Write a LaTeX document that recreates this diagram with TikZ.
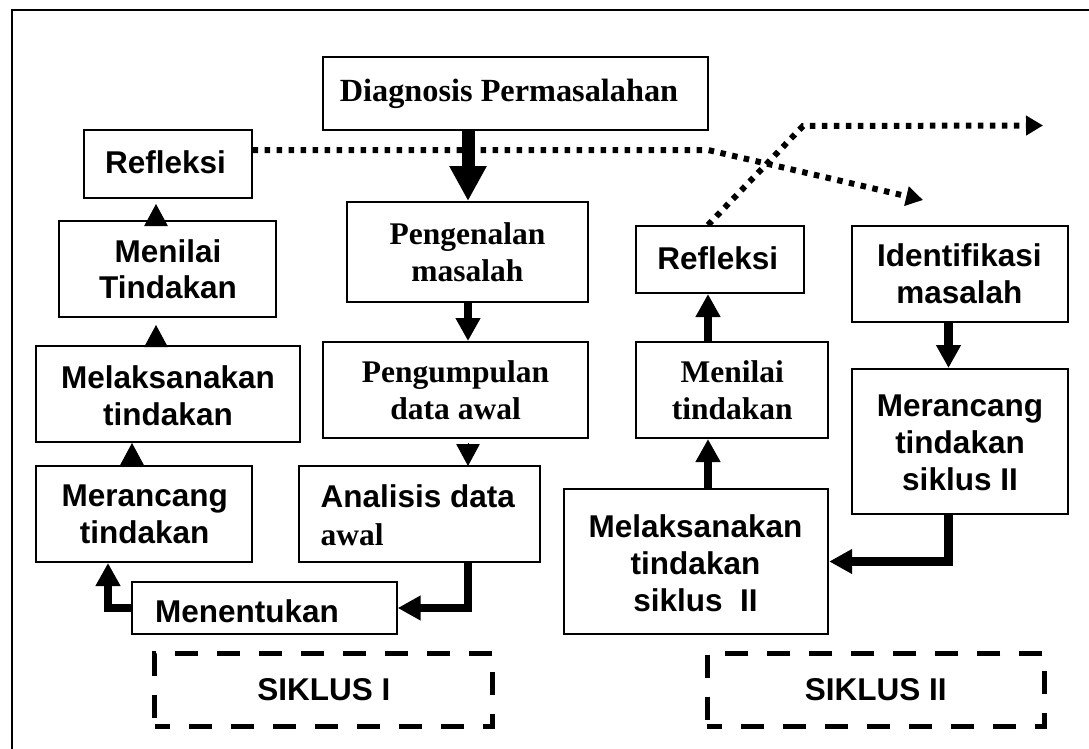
\documentclass[tikz,border=0pt]{standalone}
\usepackage{fontspec}
\setmainfont{Liberation Sans}
\newfontfamily\tnr{Liberation Serif}
\usetikzlibrary{arrows.meta}
\tikzset{
  box/.style={draw, line width=2pt, inner sep=0pt},
  sf/.style={font=\fontsize{31.5}{37}\selectfont\bfseries, align=center, inner sep=0pt},
  rm/.style={font=\fontsize{31.5}{37}\selectfont\tnr\bfseries, align=center, inner sep=0pt},
  arr/.style={line width=8.5pt, line join=miter, -{Triangle[width=23.5pt,length=23pt]}},
  bigarr/.style={line width=13pt, -{Triangle[width=35pt,length=35pt]}},
  tri/.style={line width=1pt, -{Triangle[width=23.5pt,length=22pt]}},
  dots/.style={line width=6pt, dash pattern=on 5.5pt off 6.5pt, -{Triangle[width=19pt,length=17pt]}},
  cyc/.style={draw, line width=5pt, dash pattern=on 23pt off 19pt, dash phase=8pt, inner sep=0pt,
    font=\fontsize{31.5}{37}\selectfont\bfseries}
}
\begin{document}
\begin{tikzpicture}[x=1pt,y=-1pt]
\useasboundingbox (0,0) rectangle (1089,749);
\fill[white] (0,0) rectangle (1089,749);
\draw[line width=2pt] (11.8,760) -- (11.8,10) -- (1095,10);

% column coordinates
\coordinate (x108) at (108,0);
\coordinate (x132) at (132,0);
\coordinate (x156) at (156,0);
\coordinate (x468) at (468,0);
\coordinate (x708) at (708,0);
\coordinate (x949) at (948.5,0);

% boxes
\node[box, minimum width=385pt, minimum height=73pt] (diag) at (515.5,93.5) {};
\node[rm, font=\fontsize{32.3}{37}\selectfont\tnr\bfseries] (diagt) at (509,94) {Diagnosis Permasalahan};

\node[box, minimum width=168pt, minimum height=68pt] (ref1) at (167.7,164) {};
\node[sf] (ref1t) at (165.5,162) {Refleksi};

\node[box, minimum width=241pt, minimum height=100pt] (peng) at (467.5,252) {};
\node[rm] (pengt) at (467.5,252) {Pengenalan\\masalah};

\node[box, minimum width=217pt, minimum height=96pt] (meni) at (167.8,269) {};
\node[sf, font=\fontsize{31.5}{36}\selectfont\bfseries] (menit) at (168,269) {Menilai\\Tindakan};

\node[box, minimum width=265pt, minimum height=96pt] (pgm) at (455.6,390) {};
\node[rm] (pgmt) at (455.6,390) {Pengumpulan\\data awal};

\node[box, minimum width=264pt, minimum height=96pt] (mel) at (167.9,394) {};
\node[sf] (melt) at (168,396) {Melaksanakan\\tindakan};

\node[box, minimum width=216pt, minimum height=96pt] (mer) at (143.9,514) {};
\node[sf] (mert) at (144.7,514) {Merancang\\tindakan};

\node[box, minimum width=241pt, minimum height=96pt] (ana) at (419.6,514) {};
\node[anchor=west, align=left, inner sep=0pt, font=\fontsize{31.5}{38}\selectfont\bfseries] (anat) at (320.4,515)
  {Analisis data\\{\tnr\fontsize{31.5}{38}\selectfont awal}};

\node[box, minimum width=265pt, minimum height=52pt] (men) at (264.2,608) {};
\node[sf, anchor=west] (ment) at (155,611) {Menentukan};

\node[cyc, minimum width=338pt, minimum height=73pt] (s1) at (323.9,690) {SIKLUS I};

\node[box, minimum width=168pt, minimum height=67pt] (ref2) at (719.6,259.5) {};
\node[sf] (ref2t) at (717.7,258) {Refleksi};

\node[box, minimum width=216pt, minimum height=96pt] (iden) at (960,274) {};
\node[sf] (ident) at (959.3,274) {Identifikasi\\masalah};

\node[box, minimum width=192.6pt, minimum height=96pt] (menii) at (731.9,390) {};
\node[rm] (meniit) at (732.3,390) {Menilai\\tindakan};

\node[box, minimum width=216.4pt, minimum height=145pt] (merii) at (959.8,441.5) {};
\node[sf] (meriit) at (960,443) {Merancang\\tindakan\\siklus II};

\node[box, minimum width=264.4pt, minimum height=145pt] (melii) at (696,561.5) {};
\node[sf] (meliit) at (695.5,563) {Melaksanakan\\tindakan\\siklus\ \ II};

\node[cyc, minimum width=337pt, minimum height=73pt] (s2) at (875.8,690) {SIKLUS II};

% connectors
\draw[bigarr] (x468 |- diag.south) -- (x468 |- peng.north);
\draw[arr] (x468 |- peng.south) -- (x468 |- pgm.north);
\draw[tri, shorten <=4pt, shorten >=-1pt] (x468 |- pgm.south) -- (x468 |- ana.north);
\draw[arr] (x468 |- ana.south) |- (men.east);
\draw[arr] (men.west) -| (x108 |- mer.south);
\draw[tri] (x132 |- mer.north) -- (x132 |- mel.south);
\draw[tri, shorten >=7pt] (x156 |- mel.north) -- (x156 |- meni.south);
\draw[tri, shorten >=5pt] (x156 |- meni.north) -- (x156 |- ref1.south);

\draw[arr] (x949 |- iden.south) -- (x949 |- merii.north);
\draw[arr] (x949 |- merii.south) |- (melii.east);
\draw[arr] (x708 |- melii.north) -- (x708 |- menii.south);
\draw[arr] (x708 |- menii.north) -- (x708 |- ref2.south);

\coordinate (d1a) at (708,150);
\coordinate (d1end) at (923,200);
\draw[dots] ([yshift=14pt]ref1.east) -- (d1a) -- (d1end);
\coordinate (d2a) at (803,126);
\coordinate (d2end) at (1043,125.5);
\draw[dots] (x708 |- ref2.north) -- (d2a) -- (d2end);
\end{tikzpicture}
\end{document}
